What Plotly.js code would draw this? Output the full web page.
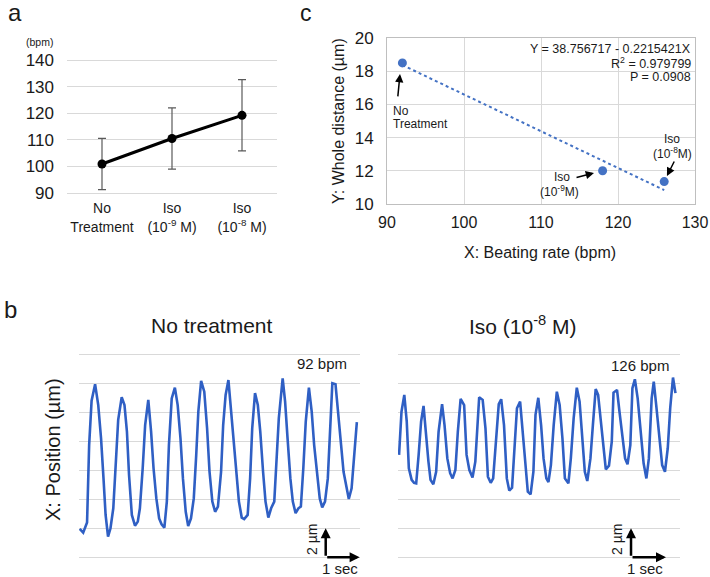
<!DOCTYPE html>
<html>
<head>
<meta charset="utf-8">
<script src="https://cdn.plot.ly/plotly-3.0.1.min.js"></script>
<style>html,body{margin:0;padding:0;background:#fff;}#chart{width:710px;height:577px;}</style>
</head>
<body>
<div id="chart"></div>
<script>
// ---- Panel a: beating rate (bpm) ----
var groupLabels = ['No<br>Treatment', 'Iso<br>(10<sup>-9</sup> M)', 'Iso<br>(10<sup>-8</sup> M)'];
var bpmMean = [100.9, 110.5, 119.2];
var bpmErr = [9.6, 11.5, 13.4];

// ---- Panel c: whole distance vs beating rate ----
var rateX = [92, 118, 126];
var distY = [18.5, 12.0, 11.35];
var trendX = [92, 126];
var trendY = [18.37, 10.84];

// ---- Panel b: position traces (time in s, position in µm) ----
var noTrtT = [0.02,0.12,0.23,0.29,0.36,0.46,0.55,0.63,0.70,0.76,0.83,0.90,0.98,1.05,1.12,1.22,1.30,1.37,1.43,1.51,1.60,1.68,1.74,1.82,1.89,1.98,2.06,2.13,2.21,2.29,2.36,2.44,2.51,2.57,2.65,2.74,2.82,2.90,2.97,3.05,3.12,3.20,3.28,3.35,3.41,3.49,3.58,3.66,3.73,3.81,3.89,3.97,4.06,4.12,4.19,4.27,4.34,4.42,4.50,4.57,4.65,4.72,4.82,4.89,4.95,5.03,5.11,5.18,5.26,5.33,5.41,5.49,5.58,5.65,5.71,5.82,5.89,5.96,6.04,6.11,6.19,6.27,6.34,6.41,6.48,6.57,6.65,6.72,6.80,6.88,6.95,7.03,7.11,7.17,7.24,7.33,7.41,7.49,7.56,7.64,7.71,7.79,7.87,7.94];
var noTrtPos = [1.96,1.7,2.4,7.74,10.8,11.94,10.5,8.2,5.44,2.92,1.42,2.0,3.38,6.6,9.48,11.04,10.5,8.66,5.68,2.92,2.18,2.46,3.38,6.14,9.12,10.86,8.66,6.14,4.06,2.68,2.28,2.04,3.84,7.74,10.96,11.7,10.5,8.2,5.44,3.14,2.16,2.68,4.06,7.06,10.04,12.16,11.42,8.9,5.9,3.84,3.14,3.5,5.9,9.12,11.2,12.22,10.28,7.74,5.44,3.84,2.74,2.64,2.92,5.44,8.9,11.32,10.5,8.66,5.9,3.84,2.74,3.38,3.84,6.6,9.58,12.34,10.74,8.2,5.44,3.84,3.04,3.38,3.5,6.14,9.36,11.7,10.04,7.74,5.68,4.06,3.44,3.84,5.44,8.9,12.0,11.94,10.04,7.74,5.9,4.98,4.02,4.76,7.06,9.32];

var isoT = [0.03,0.10,0.18,0.25,0.31,0.39,0.46,0.52,0.59,0.66,0.73,0.80,0.87,0.93,1.01,1.09,1.16,1.26,1.33,1.41,1.49,1.56,1.64,1.71,1.79,1.89,1.96,2.04,2.13,2.21,2.27,2.32,2.42,2.50,2.57,2.65,2.72,2.80,2.88,2.95,3.03,3.11,3.18,3.26,3.33,3.40,3.49,3.56,3.64,3.71,3.79,3.87,3.93,4.01,4.09,4.16,4.24,4.30,4.37,4.45,4.54,4.62,4.70,4.77,4.87,4.94,5.02,5.11,5.19,5.27,5.34,5.41,5.50,5.57,5.65,5.72,5.80,5.88,5.94,6.03,6.11,6.16,6.26,6.33,6.41,6.49,6.56,6.64,6.70,6.77,6.85,6.92,7.02,7.10,7.17,7.25,7.31,7.38,7.48,7.55,7.63,7.71,7.78,7.86,7.93];
var isoPos = [7.06,10.04,11.2,9.36,6.14,5.34,5.14,5.1,7.06,9.36,10.44,8.2,6.6,5.34,5.04,5.9,8.66,10.56,9.12,6.82,5.8,5.44,6.02,8.66,10.92,10.5,7.06,6.02,5.5,6.6,8.66,11.04,10.86,8.9,5.56,5.14,5.44,7.74,10.56,10.9,9.12,5.44,4.6,4.8,7.74,10.28,10.74,8.66,6.14,4.52,4.34,5.9,9.82,11.0,9.12,6.82,5.44,5.18,6.36,9.12,11.42,10.5,8.2,5.44,5.1,6.82,9.58,11.7,10.74,8.2,5.9,5.26,6.82,9.12,11.6,11.2,9.36,7.28,6.06,6.32,7.98,11.36,11.54,10.04,8.2,6.82,6.42,7.74,11.66,12.28,10.96,8.9,6.48,5.44,6.82,10.96,12.12,10.5,7.74,6.36,5.9,7.52,10.28,12.4,11.32];

var FONT = 'Liberation Sans, Arial, Helvetica, sans-serif';
var TXT = '#1a1a1a';
var GRID = '#d9d9d9';
var BLUE = '#4472C4';
var TRACE = '#2f5fc4';
function px(x){return x/710;}
function py(y){return 1 - y/577;}

var traces = [
  {x: groupLabels, y: bpmMean, xaxis:'x', yaxis:'y', type:'scatter', mode:'lines+markers',
   line:{color:'#000', width:3}, marker:{color:'#000', size:9},
   error_y:{type:'data', array:bpmErr, visible:true, color:'#595959', thickness:1.2, width:4}},
  {x: trendX, y: trendY, xaxis:'x2', yaxis:'y2', type:'scatter', mode:'lines',
   line:{color:BLUE, width:2, dash:'dot'}},
  {x: rateX, y: distY, xaxis:'x2', yaxis:'y2', type:'scatter', mode:'markers',
   marker:{color:BLUE, size:9}},
  {x: noTrtT, y: noTrtPos, xaxis:'x3', yaxis:'y3', type:'scatter', mode:'lines',
   line:{color:TRACE, width:2.6}},
  {x: isoT, y: isoPos, xaxis:'x4', yaxis:'y4', type:'scatter', mode:'lines',
   line:{color:TRACE, width:2.6}}
];

var ann = [];
function A(o){
  o.font = Object.assign({family:FONT, color:TXT, size:12}, o.font||{});
  if(o.showarrow===undefined) o.showarrow=false;
  if(!o.xanchor) o.xanchor='center';
  if(!o.yanchor) o.yanchor='middle';
  ann.push(o);
}

// panel letters
A({text:'a', xref:'paper', yref:'paper', x:px(15), y:py(12), font:{size:24}});
A({text:'b', xref:'paper', yref:'paper', x:px(10), y:py(309), font:{size:24}});
A({text:'c', xref:'paper', yref:'paper', x:px(306), y:py(13), font:{size:23}});
// panel a unit
A({text:'(bpm)', xref:'paper', yref:'paper', x:px(39), y:py(42), font:{size:10.5}});

// panel c axis titles
A({text:'Y: Whole distance (µm)', xref:'paper', yref:'paper', x:px(338), y:py(121), textangle:-90, font:{size:16}});
A({text:'X: Beating rate (bpm)', xref:'paper', yref:'paper', x:px(540), y:py(252), font:{size:16}});
// regression text
A({text:'Y = 38.756717 - 0.2215421X', xref:'paper', yref:'paper', x:px(693), y:py(49), xanchor:'right', font:{size:12.5}});
A({text:'R<sup>2</sup> = 0.979799', xref:'paper', yref:'paper', x:px(693), y:py(63), xanchor:'right', font:{size:12.5}});
A({text:'P = 0.0908', xref:'paper', yref:'paper', x:px(693), y:py(77), xanchor:'right', font:{size:12.5}});
// point labels
A({text:'No', xref:'paper', yref:'paper', x:px(391), y:py(111), xanchor:'left'});
A({text:'Treatment', xref:'paper', yref:'paper', x:px(391), y:py(124), xanchor:'left'});
A({text:'Iso', xref:'paper', yref:'paper', x:px(562), y:py(177), font:{size:12}});
A({text:'(10<sup>-9</sup>M)', xref:'paper', yref:'paper', x:px(559), y:py(191), font:{size:12}});
A({text:'Iso', xref:'paper', yref:'paper', x:px(672), y:py(139), font:{size:12}});
A({text:'(10<sup>-8</sup>M)', xref:'paper', yref:'paper', x:px(672), y:py(153), font:{size:12}});
// arrows
function arrow(xr, yr, x, y, ax, ay, w, s){
  ann.push({text:'', xref:xr, yref:yr, axref:xr, ayref:yr, x:x, y:y, ax:ax, ay:ay,
    showarrow:true, arrowhead:2, arrowsize:s||1, arrowwidth:w||1.5, arrowcolor:'#000'});
}
arrow('x2','y2', 91.69, 17.83, 91.39, 16.39, 1.5, 1.1);
arrow('x2','y2', 116.88, 11.87, 114.42, 11.57, 1.5, 1.1);
arrow('x2','y2', 126.36, 11.69, 127.40, 12.65, 1.5, 1.1);

// panel b titles & labels
A({text:'No treatment', xref:'paper', yref:'paper', x:px(212), y:py(325), font:{size:21}});
A({text:'Iso (10<sup>-8</sup> M)', xref:'paper', yref:'paper', x:px(523), y:py(325), font:{size:21}});
A({text:'X: Position (µm)', xref:'paper', yref:'paper', x:px(53), y:py(450), textangle:-90, font:{size:20}});
A({text:'92 bpm', xref:'paper', yref:'paper', x:px(322), y:py(363), font:{size:15}});
A({text:'126 bpm', xref:'paper', yref:'paper', x:px(640), y:py(365), font:{size:15}});
// scale bars
arrow('x3','y3', 7.05, 2, 7.05, 0, 2.5, 0.8);
arrow('x3','y3', 8.02, 0, 7.05, 0, 2.5, 0.8);
arrow('x4','y4', 6.66, 2, 6.66, 0, 2.5, 0.8);
arrow('x4','y4', 7.66, 0, 6.66, 0, 2.5, 0.8);
A({text:'2 µm', xref:'paper', yref:'paper', x:px(312), y:py(540), textangle:-90, font:{size:14}});
A({text:'1 sec', xref:'paper', yref:'paper', x:px(340), y:py(568), font:{size:15}});
A({text:'2 µm', xref:'paper', yref:'paper', x:px(617), y:py(540), textangle:-90, font:{size:14}});
A({text:'1 sec', xref:'paper', yref:'paper', x:px(645), y:py(568), font:{size:15}});

var hidden = {showgrid:false, zeroline:false, showline:false, showticklabels:false, ticks:''};

var layout = {
  width:710, height:577, margin:{l:0, r:0, t:0, b:0},
  paper_bgcolor:'#fff', plot_bgcolor:'rgba(0,0,0,0)', showlegend:false,
  font:{family:FONT, color:TXT},
  xaxis:{domain:[px(67), px(277)], anchor:'y', type:'category', range:[-0.5, 2.5],
    showgrid:false, zeroline:false, showline:false, ticks:'', tickfont:{size:14, color:TXT}, ticklabelstandoff:4},
  yaxis:{domain:[py(194.33), py(58.67)], anchor:'x', range:[89.5, 140.5], tickvals:[90,100,110,120,130,140], showgrid:true, gridcolor:GRID,
    gridwidth:1, zeroline:false, showline:false, ticks:'', tickfont:{size:17, color:TXT}, ticklabelstandoff:12},
  xaxis2:{domain:[px(387), px(695)], anchor:'y2', range:[90, 130], dtick:10, showgrid:true, gridcolor:GRID,
    zeroline:false, showline:true, mirror:true, linecolor:'#bfbfbf', ticks:'', tickfont:{size:16, color:TXT}, ticklabelstandoff:4},
  yaxis2:{domain:[py(204), py(38)], anchor:'x2', range:[10, 20], dtick:2, showgrid:true, gridcolor:GRID,
    zeroline:false, showline:true, mirror:true, linecolor:'#bfbfbf', ticks:'', tickfont:{size:17, color:TXT}, ticklabelstandoff:9},
  xaxis3:Object.assign({domain:[px(79), px(360)], anchor:'y3', range:[0, 8.03]}, hidden),
  yaxis3:{domain:[py(563.1), py(348.5)], anchor:'x3', range:[-0.4, 14.4], tickvals:[0,2,4,6,8,10,12,14], showgrid:true, gridcolor:GRID,
    gridwidth:1.2, zeroline:false, showline:false, showticklabels:false, ticks:''},
  xaxis4:Object.assign({domain:[px(398), px(680)], anchor:'y4', range:[0, 8.06]}, hidden),
  yaxis4:{domain:[py(563.1), py(348.5)], anchor:'x4', range:[-0.4, 14.4], tickvals:[0,2,4,6,8,10,12,14], showgrid:true, gridcolor:GRID,
    gridwidth:1.2, zeroline:false, showline:false, showticklabels:false, ticks:''},
  annotations: ann
};

Plotly.newPlot('chart', traces, layout, {staticPlot:true, displayModeBar:false});
</script>
</body>
</html>
